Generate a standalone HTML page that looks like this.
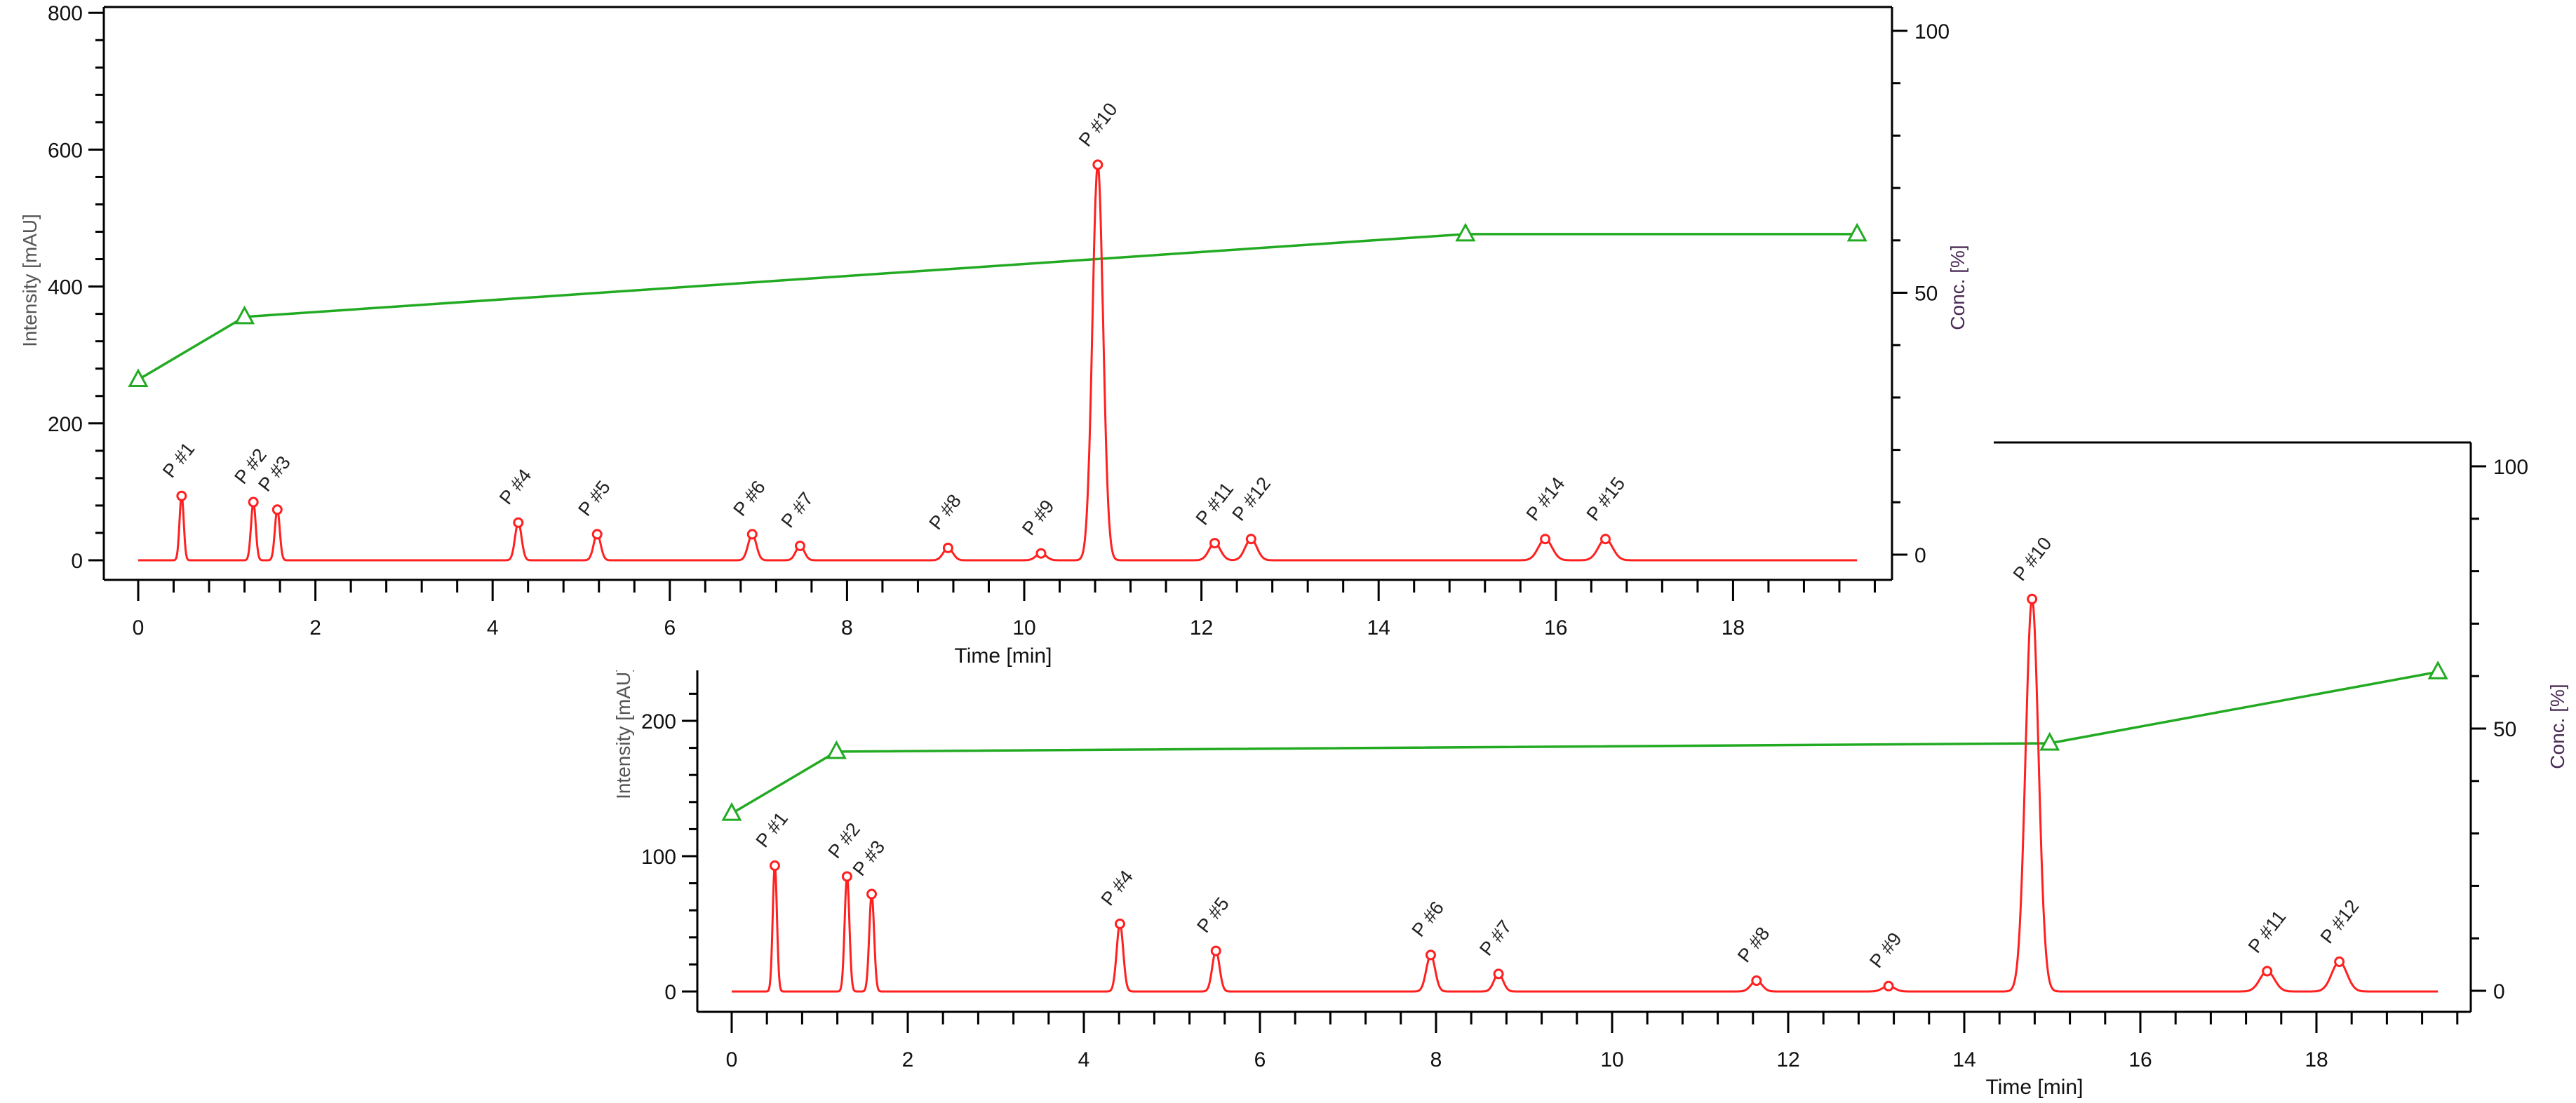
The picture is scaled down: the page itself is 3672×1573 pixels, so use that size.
<!DOCTYPE html>
<html><head><meta charset="utf-8"><style>
html,body{margin:0;padding:0;background:#fff;}
svg{display:block;font-family:"Liberation Sans",sans-serif;}
</style></head><body>
<svg id="svg" width="3672" height="1573" viewBox="0 0 3672 1573" xmlns="http://www.w3.org/2000/svg">
<g id="bottom"></g>
<rect x="0" y="0" width="2842" height="956" fill="#fff"/>
<g id="top"></g>
</svg>
<script>
// ---- top chart data ----
const topPeakTimes = [0.49,1.30,1.57,4.29,5.18,6.93,7.47,9.14,10.19,10.83,12.15,12.56,15.88,16.56];
const topPeakHeights = [94,85,74,55,38,38,21,18,10,578,25,31,31,31];
const topPeakLabels = ["P #1","P #2","P #3","P #4","P #5","P #6","P #7","P #8","P #9","P #10","P #11","P #12","P #14","P #15"];
const topGradTimes = [0,1.2,14.98,19.4];
const topGradConc = [33.4,45.4,61.2,61.2];
const topXTicks = [0,2,4,6,8,10,12,14,16,18];
const topYTicks = [0,200,400,600,800];
const topRTicks = [0,50,100];
// ---- bottom chart data ----
const botPeakTimes = [0.49,1.31,1.59,4.41,5.50,7.94,8.71,11.64,13.14,14.77,17.44,18.26];
const botPeakHeights = [93,85,72,50,30,27,13,8,4,290,15,22];
const botPeakLabels = ["P #1","P #2","P #3","P #4","P #5","P #6","P #7","P #8","P #9","P #10","P #11","P #12"];
const botGradTimes = [0,1.19,14.97,19.38];
const botGradConc = [33.8,45.6,47.2,60.8];
const botXTicks = [0,2,4,6,8,10,12,14,16,18];
const botYTicks = [0,100,200];
const botRTicks = [0,50,100];

const NS="http://www.w3.org/2000/svg";
function mk(parent,tag,attrs,text){const e=document.createElementNS(NS,tag);for(const k in attrs)e.setAttribute(k,attrs[k]);if(text!==undefined)e.textContent=text;parent.appendChild(e);return e;}

function chart(g,c){
  const X=t=>c.x0+t*c.xs, Y=v=>c.y0-v*c.ys, R=p=>c.r0-p*c.rs;
  let ax=mk(g,'line',{x1:c.left,y1:c.axTop,x2:c.left,y2:c.bottom,stroke:'#000','stroke-width':3});
  
  
  ax=mk(g,'line',{x1:c.left,y1:c.bottom,x2:c.right,y2:c.bottom,stroke:'#000','stroke-width':3});
  
  
  ax=mk(g,'line',{x1:c.right,y1:c.top,x2:c.right,y2:c.bottom,stroke:'#000','stroke-width':3});
  
  
  ax=mk(g,'line',{x1:c.topLineStart,y1:c.top,x2:c.right,y2:c.top,stroke:'#000','stroke-width':3});
  
  
  for(let t=0;t<=c.xMax+1e-6;t+=0.4){const x=X(t);const maj=Math.abs(t/2-Math.round(t/2))<1e-6;
    mk(g,'line',{x1:x,y1:c.bottom,x2:x,y2:c.bottom+(maj?30:18),stroke:'#000','stroke-width':3});}
  c.xTicks.forEach(v=>{const e=mk(g,'text',{x:X(v),y:c.bottom+78,'font-size':30,'text-anchor':'middle',fill:'#111'},String(v));
    
    });
  for(let v=0;Y(v)>=c.axTop-1;v+=c.yMinor){const y=Y(v);const maj=Math.abs(v/c.yMajor-Math.round(v/c.yMajor))<1e-6;
    mk(g,'line',{x1:c.left-(maj?22:12),y1:y,x2:c.left,y2:y,stroke:'#000','stroke-width':3});}
  c.yTicks.forEach(v=>{const e=mk(g,'text',{x:c.left-30,y:Y(v)+11,'font-size':30,'text-anchor':'end',fill:'#111'},String(v));
    
    });
  for(let p=0;R(p)>=c.top-1;p+=10){const y=R(p);const maj=p%50===0;
    mk(g,'line',{x1:c.right,y1:y,x2:c.right+(maj?22:12),y2:y,stroke:'#000','stroke-width':3});}
  c.rTicks.forEach(v=>{const e=mk(g,'text',{x:c.right+32,y:R(v)+11,'font-size':30,fill:'#111'},String(v));
    
    });
  let t=mk(g,'text',{x:c.xTitleX,y:c.xTitleY,'font-size':30,'text-anchor':'middle',fill:'#111'},'Time [min]');
  
  
  t=mk(g,'text',{x:0,y:0,'font-size':28,'text-anchor':'middle',fill:'#555',transform:`translate(${c.yTitleX},${c.yTitleY}) rotate(-90)`},c.yTitle);
  
  
  t=mk(g,'text',{x:0,y:0,'font-size':28,'text-anchor':'middle',fill:'#4a2a55',transform:`translate(${c.rTitleX},${c.rTitleY}) rotate(-90)`},'Conc. [%]');
  
  
  const gp=c.gT.map((tt,i)=>X(tt)+','+R(c.gC[i])).join(' ');
  const gl=mk(g,'polyline',{points:gp,fill:'none',stroke:'#22aa22','stroke-width':3.5});
  
  
  c.gT.forEach((tt,i)=>{const x=X(tt),y=R(c.gC[i]);
    const m=mk(g,'polygon',{points:`${x},${y-13} ${x-12},${y+9} ${x+12},${y+9}`,fill:'#fff',stroke:'#22aa22','stroke-width':3});
    
    });
  const sig=tt=>0.022+0.0035*tt;
  let pts=[];
  for(let tt=0;tt<=c.gT[c.gT.length-1]+1e-6;tt+=0.004){let v=0;
    c.pT.forEach((p,i)=>{const s=sig(p);v+=c.pH[i]*Math.exp(-0.5*((tt-p)/s)**2);});
    pts.push(X(tt).toFixed(1)+','+Y(v).toFixed(1));}
  const cl=mk(g,'polyline',{points:pts.join(' '),fill:'none',stroke:'#ff2020','stroke-width':3});
  
  
  c.pT.forEach((p,i)=>{const x=X(p),y=Y(c.pH[i]);
    const m=mk(g,'circle',{cx:x,cy:y,r:6,fill:'#fff',stroke:'#ff2020','stroke-width':3});
    
    
    const l=mk(g,'text',{x:0,y:0,'font-size':27,fill:'#222',transform:`translate(${x-14},${y-24}) rotate(-52)`},c.pL[i]);
    
    });
}

chart(document.getElementById('top'),{x0:197,xs:126.3,y0:799,ys:0.976,r0:791,rs:7.47,
  left:148,right:2697,top:10,axTop:10,bottom:827,topLineStart:148,xMax:19.6,yMinor:40,yMajor:200,
  xTicks:topXTicks,yTicks:topYTicks,rTicks:topRTicks,
  xTitleX:1430,xTitleY:945,yTitle:'Intensity [mAU]',yTitleX:52,yTitleY:400,rTitleX:2800,rTitleY:410,
  pT:topPeakTimes,pH:topPeakHeights,pL:topPeakLabels,gT:topGradTimes,gC:topGradConc});

chart(document.getElementById('bottom'),{x0:1043,xs:125.5,y0:1414,ys:1.93,r0:1413,rs:7.48,
  left:994,right:3522,top:631,axTop:956,bottom:1443,topLineStart:2842,xMax:19.6,yMinor:20,yMajor:100,
  xTicks:botXTicks,yTicks:botYTicks,rTicks:botRTicks,
  xTitleX:2900,xTitleY:1560,yTitle:'Intensity [mAU]',yTitleX:898,yTitleY:1045,rTitleX:3655,rTitleY:1036,
  pT:botPeakTimes,pH:botPeakHeights,pL:botPeakLabels,gT:botGradTimes,gC:botGradConc});
</script>
</body></html>
